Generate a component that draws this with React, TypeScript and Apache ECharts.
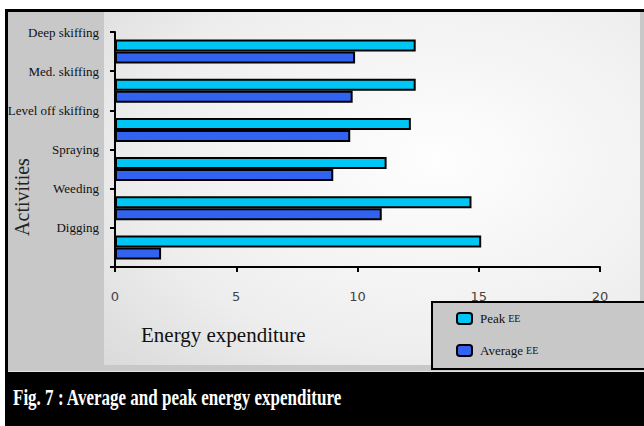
import React, { useEffect, useRef } from "react";
import * as echarts from "echarts";

// Activities, listed top to bottom
const categories = [
  "Deep skiffing",
  "Med. skiffing",
  "Level off skiffing",
  "Spraying",
  "Weeding",
  "Digging",
];

// Energy expenditure per activity
const peakEE = [12.4, 12.4, 12.2, 11.2, 14.7, 15.1];
const averageEE = [9.9, 9.8, 9.7, 9.0, 11.0, 1.9];

const xTicks = { min: 0, max: 20, interval: 5 };

const SERIF = '"Liberation Serif", "Times New Roman", serif';
const SANS = '"DejaVu Sans", Verdana, sans-serif';

export default function App() {
  const ref = useRef<HTMLDivElement>(null);

  useEffect(() => {
    if (!ref.current) return;
    const chart = echarts.init(ref.current, null, { renderer: "svg" });

    const plotFill = new echarts.graphic.RadialGradient(0.62, 0.42, 1.0, [
      { offset: 0, color: "#fefefe" },
      { offset: 0.55, color: "#eeeeee" },
      { offset: 1, color: "#d0d0d0" },
    ]);

    chart.setOption({
      animation: false,
      backgroundColor: "#ffffff",
      grid: {
        left: 115,
        top: 32,
        right: 44,
        bottom: 159,
        containLabel: false,
        outerBoundsMode: "none",
      },
      xAxis: {
        type: "value",
        min: xTicks.min,
        max: xTicks.max,
        interval: xTicks.interval,
        splitLine: { show: false },
        axisLine: { show: true, lineStyle: { color: "#000", width: 2 } },
        axisTick: { show: true, length: 5, lineStyle: { color: "#000", width: 2 } },
        axisLabel: { fontFamily: SANS, fontSize: 13, color: "#444", margin: 23 },
      },
      yAxis: [
        {
          type: "category",
          data: categories,
          inverse: true,
          boundaryGap: true,
          axisLine: { show: true, lineStyle: { color: "#000", width: 2 } },
          axisTick: { show: true, length: 5, lineStyle: { color: "#000", width: 2 } },
          axisLabel: { show: false },
        },
        {
          // labels sit on the band boundaries, one above each pair of bars
          type: "category",
          data: [...categories, ""],
          inverse: true,
          boundaryGap: false,
          position: "left",
          axisLine: { show: false },
          axisTick: { show: false },
          splitLine: { show: false },
          axisLabel: {
            fontFamily: SERIF,
            fontSize: 13,
            color: "#111",
            margin: 16,
            interval: 0,
          },
        },
      ],
      legend: {
        orient: "vertical",
        left: 432,
        top: 302,
        padding: [10, 130, 12, 24],
        itemGap: 19,
        itemWidth: 15,
        itemHeight: 11,
        icon: "roundRect",
        backgroundColor: "#c8c8c8",
        borderColor: "#000",
        borderWidth: 2,
        borderRadius: 0,
        formatter: (name: string) => {
          const parts = name.split(" ");
          return `{a|${parts[0]}} {b|${parts.slice(1).join(" ")}}`;
        },
        textStyle: {
          fontFamily: SERIF,
          color: "#111",
          padding: [0, 0, 0, 3],
          rich: {
            a: { fontFamily: SERIF, fontSize: 13, color: "#111" },
            b: { fontFamily: SERIF, fontSize: 10, color: "#111" },
          },
        },
      },
      series: [
        {
          name: "Peak EE",
          type: "bar",
          yAxisIndex: 0,
          data: peakEE,
          barWidth: 12,
          barGap: "0%",
          itemStyle: { color: "#00c6f5", borderColor: "#000", borderWidth: 2 },
        },
        {
          name: "Average EE",
          type: "bar",
          yAxisIndex: 0,
          data: averageEE,
          barWidth: 12,
          barGap: "0%",
          itemStyle: { color: "#3262f0", borderColor: "#000", borderWidth: 2 },
        },
      ],
      graphic: {
        elements: [
          {
            type: "rect",
            z: -10,
            shape: { x: 5, y: 9, width: 639, height: 417 },
            style: { fill: "#000" },
          },
          {
            type: "rect",
            z: -9,
            shape: { x: 8, y: 12, width: 636, height: 359 },
            style: { fill: "#c8c8c8" },
          },
          {
            type: "rect",
            z: -9,
            shape: { x: 8, y: 371, width: 636, height: 1 },
            style: { fill: "#e2e2e2" },
          },
          {
            type: "rect",
            z: -8,
            shape: { x: 104, y: 12, width: 536, height: 353 },
            style: { fill: plotFill },
          },
          {
            type: "text",
            z: 10,
            x: 22,
            y: 197,
            rotation: Math.PI / 2,
            style: {
              text: "Activities",
              fontFamily: SERIF,
              fontSize: 20,
              fill: "#222",
              align: "center",
              verticalAlign: "middle",
            },
          },
          {
            type: "text",
            z: 10,
            x: 141,
            y: 335,
            style: {
              text: "Energy expenditure",
              fontFamily: SERIF,
              fontSize: 21,
              fill: "#111",
              align: "left",
              verticalAlign: "middle",
            },
          },
          {
            type: "text",
            z: 10,
            x: 13,
            y: 397,
            scaleX: 0.74,
            style: {
              text: "Fig. 7 : Average and peak energy expenditure",
              fontFamily: SERIF,
              fontSize: 23,
              fontWeight: "bold",
              fill: "#fff",
              align: "left",
              verticalAlign: "middle",
            },
          },
        ],
      },
    });

    return () => chart.dispose();
  }, []);

  return (
    <div
      ref={ref}
      style={{ position: "absolute", left: 0, top: 0, width: 644, height: 426 }}
    />
  );
}
